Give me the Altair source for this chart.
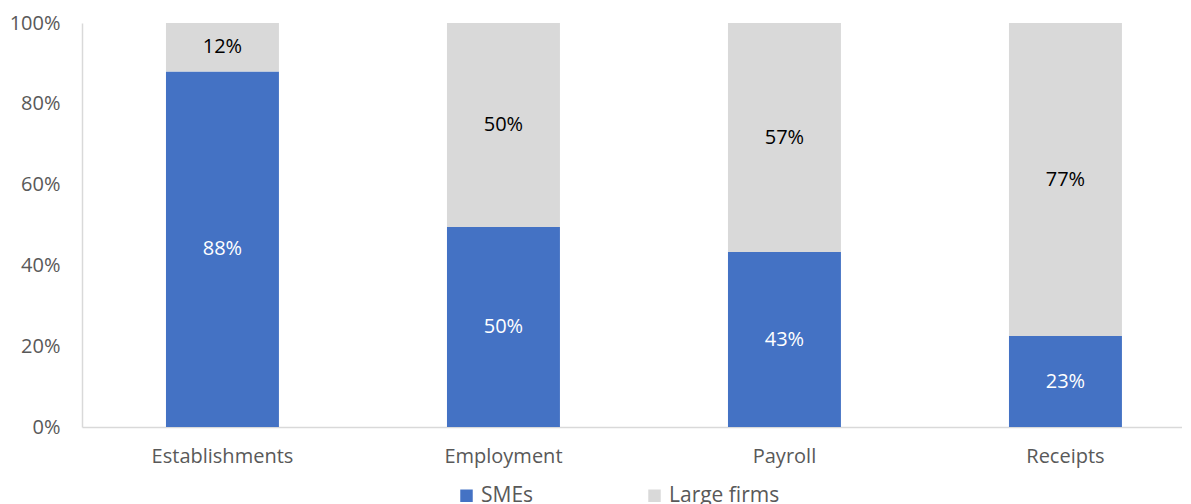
import altair as alt
import pandas as pd

categories = ["Establishments", "Employment", "Payroll", "Receipts"]
series = ["SMEs", "Large firms"]
sme_values = [88.0, 49.5, 43.3, 22.5]
large_values = [12.0, 50.5, 56.7, 77.5]
sme_labels = ["88%", "50%", "43%", "23%"]
large_labels = ["12%", "50%", "57%", "77%"]
colors = ["#4472C4", "#D9D9D9"]
label_colors = ["#FFFFFF", "#000000"]

rows = []
for i, c in enumerate(categories):
    rows.append({"cat": c, "series": "SMEs", "order": 0, "val": sme_values[i],
                 "lab": sme_labels[i], "lc": label_colors[0]})
    rows.append({"cat": c, "series": "Large firms", "order": 1, "val": large_values[i],
                 "lab": large_labels[i], "lc": label_colors[1]})
df = pd.DataFrame(rows)

FONT = "Open Sans"

x_enc = alt.X("cat:N", sort=categories, title=None,
              scale=alt.Scale(paddingInner=0.598, paddingOuter=0.2563, align=0.583),
              axis=alt.Axis(labelAngle=0, ticks=False, domainColor="#D9D9D9", domainWidth=1.5,
                            labelFontSize=20, labelColor="#595959", labelFont=FONT, labelPadding=19))

base = alt.Chart(df)

bars = base.mark_bar().encode(
    x=x_enc,
    y=alt.Y("val:Q", stack="zero", title=None,
            scale=alt.Scale(domain=[0, 100], nice=False),
            axis=alt.Axis(values=[0, 20, 40, 60, 80, 100], labelExpr="datum.value + '%'",
                          grid=False, ticks=False, domainColor="#D9D9D9", domainWidth=1.5,
                          labelFontSize=20, labelColor="#595959", labelFont=FONT, labelPadding=22)),
    color=alt.Color("series:N", sort=series,
                    scale=alt.Scale(domain=series, range=colors),
                    legend=alt.Legend(title=None, orient="none", direction="horizontal",
                                      legendX=374, legendY=462, symbolType="square",
                                      symbolSize=156, symbolStrokeWidth=0, labelFontSize=21,
                                      labelColor="#595959", labelFont=FONT, columnPadding=110,
                                      labelOffset=4)),
    order=alt.Order("order:Q"),
)

text = base.mark_text(fontSize=20, font=FONT, baseline="middle").encode(
    x=alt.X("cat:N", sort=categories),
    y=alt.Y("val:Q", stack="zero", bandPosition=0.5),
    text="lab:N",
    color=alt.Color("lc:N", scale=None),
    order=alt.Order("order:Q"),
)

chart = alt.layer(bars, text).properties(
    width=1100, height=404,
    autosize=alt.AutoSizeParams(type="none"),
    padding={"left": 74, "top": 15, "right": 0, "bottom": 90},
).configure_view(stroke=None)

chart.save("out.html", embed_options={"renderer": "svg", "actions": False})
